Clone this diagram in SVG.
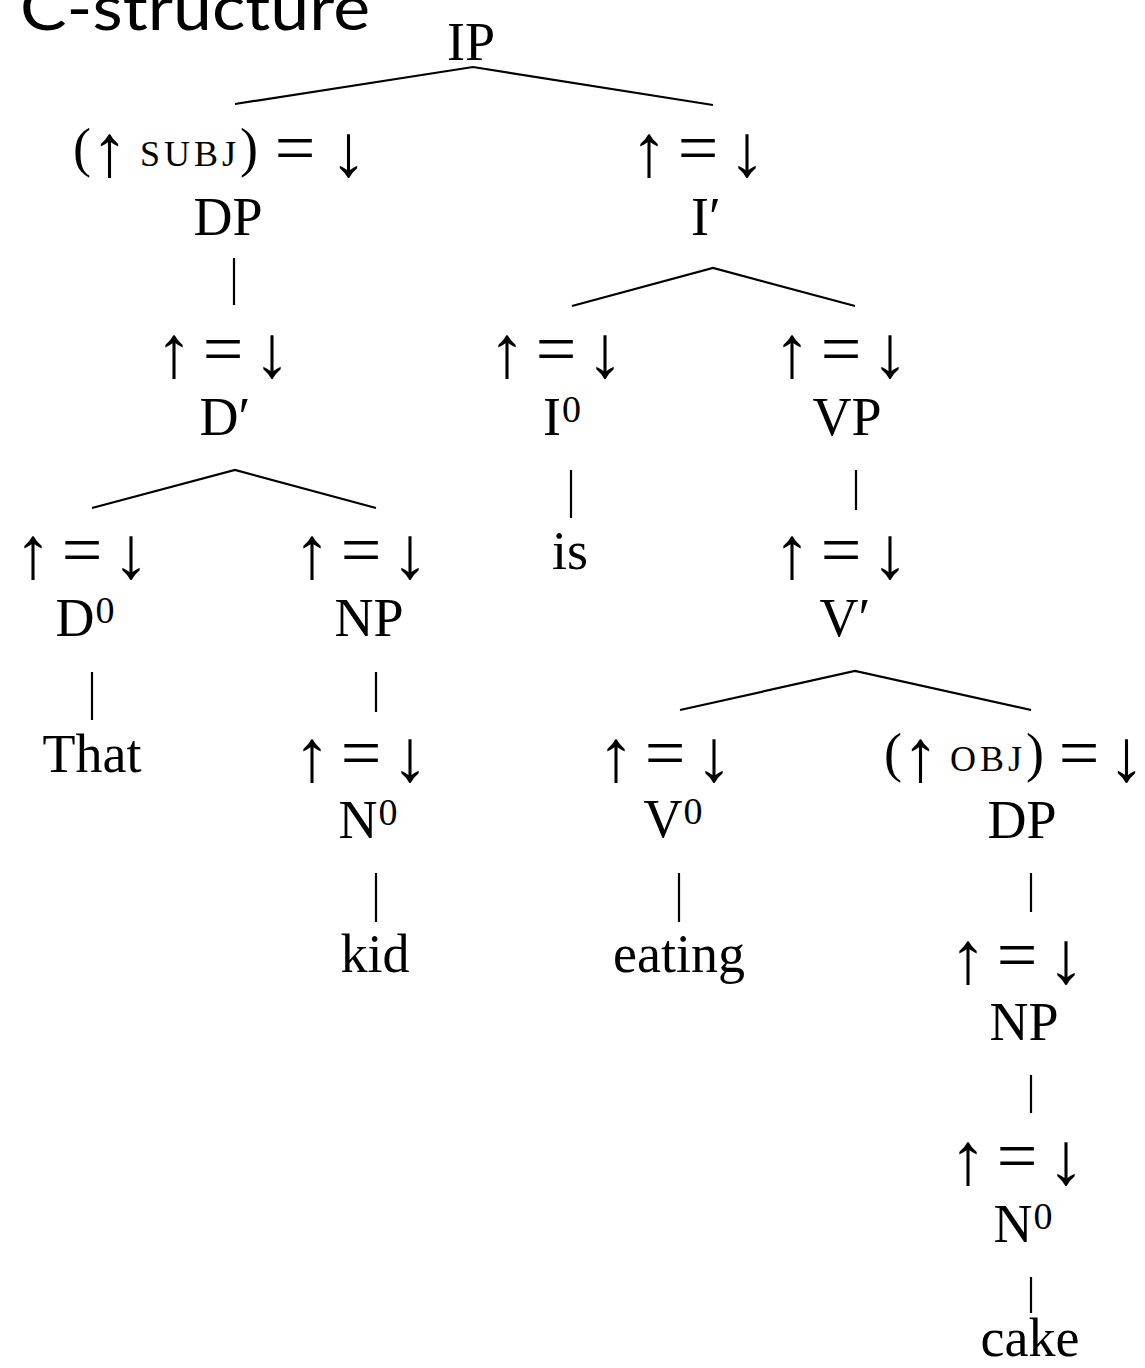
<svg xmlns="http://www.w3.org/2000/svg" width="1145" height="1368" viewBox="0 0 1145 1368">
  <style>
    .t { font-family: "Liberation Serif", "Times New Roman", serif; font-size: 54px; text-anchor: middle; fill: #000; }
    .s { text-anchor: start; }
    .ar { font-size: 74px; }
    .eq { font-size: 72px; }
    .sp { font-size: 41px; }
    .sc { font-size: 36px; letter-spacing: 4px; }
    .sup { font-size: 38px; }
    .title { font-family: Lato, "Open Sans", sans-serif; font-size: 62px; fill: #000; }
    .edge { stroke: #000; stroke-width: 2.2; fill: none; }
  </style>
  <rect width="1145" height="1368" fill="#fff"/>

  <text class="title" x="20" y="30" textLength="350" lengthAdjust="spacingAndGlyphs">C-structure</text>

  <!-- tree edges -->
  <g id="connectors">
    <path class="edge" d="M235,104 L473,67 L713,105"/>
    <path class="edge" d="M234,258 V305"/>
    <path class="edge" d="M92,508 L235,470 L376,508"/>
    <path class="edge" d="M92,672 V720"/>
    <path class="edge" d="M376,672 V712"/>
    <path class="edge" d="M376,873 V922"/>
    <path class="edge" d="M572,306 L713,268 L855,306"/>
    <path class="edge" d="M571,470 V518"/>
    <path class="edge" d="M856,470 V510"/>
    <path class="edge" d="M680,710 L855,671 L1031,710"/>
    <path class="edge" d="M679,873 V922"/>
    <path class="edge" d="M1031,873 V912"/>
    <path class="edge" d="M1031,1075 V1113"/>
    <path class="edge" d="M1031,1277 V1313"/>
  </g>

  <g id="IP"><text class="t" x="471" y="60">IP</text></g>

  <g id="DP-subj">
    <text class="t s" x="73" y="166" xml:space="preserve"><tspan>(</tspan><tspan class="ar" dy="10">↑</tspan><tspan style="font-size:48px" dy="-10"> </tspan><tspan class="sc">SUBJ</tspan><tspan>)</tspan><tspan style="font-size:67px"> </tspan><tspan class="eq" dy="6">=</tspan><tspan style="font-size:58px" dy="-6"> </tspan><tspan class="ar" dy="10">↓</tspan></text>
    <text class="t" x="228" y="235">DP</text>
  </g>
  <g id="D-bar">
    <text class="t" x="223" y="377" xml:space="preserve"><tspan class="ar">↑</tspan><tspan class="sp"> </tspan><tspan class="eq" dy="-4">=</tspan><tspan class="sp" dy="4"> </tspan><tspan class="ar">↓</tspan></text>
    <text class="t" x="225" y="435">D′</text>
  </g>
  <g id="D0">
    <text class="t" x="82" y="578" xml:space="preserve"><tspan class="ar">↑</tspan><tspan class="sp"> </tspan><tspan class="eq" dy="-4">=</tspan><tspan class="sp" dy="4"> </tspan><tspan class="ar">↓</tspan></text>
    <text class="t" x="85" y="636">D<tspan class="sup" dx="1" dy="-13">0</tspan></text>
  </g>
  <g id="that"><text class="t" x="92" y="772">That</text></g>
  <g id="NP-left">
    <text class="t" x="361" y="578" xml:space="preserve"><tspan class="ar">↑</tspan><tspan class="sp"> </tspan><tspan class="eq" dy="-4">=</tspan><tspan class="sp" dy="4"> </tspan><tspan class="ar">↓</tspan></text>
    <text class="t" x="369" y="636">NP</text>
  </g>
  <g id="N0-left">
    <text class="t" x="361" y="781" xml:space="preserve"><tspan class="ar">↑</tspan><tspan class="sp"> </tspan><tspan class="eq" dy="-4">=</tspan><tspan class="sp" dy="4"> </tspan><tspan class="ar">↓</tspan></text>
    <text class="t" x="368" y="838">N<tspan class="sup" dx="1" dy="-13">0</tspan></text>
  </g>
  <g id="kid"><text class="t" x="375" y="972">kid</text></g>

  <g id="I-bar">
    <text class="t" x="698" y="176" xml:space="preserve"><tspan class="ar">↑</tspan><tspan class="sp"> </tspan><tspan class="eq" dy="-4">=</tspan><tspan class="sp" dy="4"> </tspan><tspan class="ar">↓</tspan></text>
    <text class="t" x="706" y="235">I′</text>
  </g>
  <g id="I0">
    <text class="t" x="556" y="377" xml:space="preserve"><tspan class="ar">↑</tspan><tspan class="sp"> </tspan><tspan class="eq" dy="-4">=</tspan><tspan class="sp" dy="4"> </tspan><tspan class="ar">↓</tspan></text>
    <text class="t" x="562" y="435">I<tspan class="sup" dx="1" dy="-13">0</tspan></text>
  </g>
  <g id="is"><text class="t" x="570" y="569">is</text></g>
  <g id="VP">
    <text class="t" x="841" y="377" xml:space="preserve"><tspan class="ar">↑</tspan><tspan class="sp"> </tspan><tspan class="eq" dy="-4">=</tspan><tspan class="sp" dy="4"> </tspan><tspan class="ar">↓</tspan></text>
    <text class="t" x="847" y="435">VP</text>
  </g>
  <g id="V-bar">
    <text class="t" x="841" y="578" xml:space="preserve"><tspan class="ar">↑</tspan><tspan class="sp"> </tspan><tspan class="eq" dy="-4">=</tspan><tspan class="sp" dy="4"> </tspan><tspan class="ar">↓</tspan></text>
    <text class="t" x="845" y="636">V′</text>
  </g>
  <g id="V0">
    <text class="t" x="665" y="781" xml:space="preserve"><tspan class="ar">↑</tspan><tspan class="sp"> </tspan><tspan class="eq" dy="-4">=</tspan><tspan class="sp" dy="4"> </tspan><tspan class="ar">↓</tspan></text>
    <text class="t" x="673" y="837">V<tspan class="sup" dx="1" dy="-13">0</tspan></text>
  </g>
  <g id="eating"><text class="t" x="679" y="972">eating</text></g>
  <g id="DP-obj">
    <text class="t s" x="884" y="771" xml:space="preserve"><tspan>(</tspan><tspan class="ar" dy="10">↑</tspan><tspan style="font-size:44px" dy="-10"> </tspan><tspan class="sc">OBJ</tspan><tspan>)</tspan><tspan style="font-size:59px"> </tspan><tspan class="eq" dy="6">=</tspan><tspan style="font-size:35px" dy="-6"> </tspan><tspan class="ar" dy="10">↓</tspan></text>
    <text class="t" x="1022" y="838">DP</text>
  </g>
  <g id="NP-right">
    <text class="t" x="1017" y="983" xml:space="preserve"><tspan class="ar">↑</tspan><tspan class="sp"> </tspan><tspan class="eq" dy="-4">=</tspan><tspan class="sp" dy="4"> </tspan><tspan class="ar">↓</tspan></text>
    <text class="t" x="1024" y="1040">NP</text>
  </g>
  <g id="N0-right">
    <text class="t" x="1017" y="1184" xml:space="preserve"><tspan class="ar">↑</tspan><tspan class="sp"> </tspan><tspan class="eq" dy="-4">=</tspan><tspan class="sp" dy="4"> </tspan><tspan class="ar">↓</tspan></text>
    <text class="t" x="1023" y="1242">N<tspan class="sup" dx="1" dy="-13">0</tspan></text>
  </g>
  <g id="cake"><text class="t" x="1030" y="1356">cake</text></g>
</svg>
